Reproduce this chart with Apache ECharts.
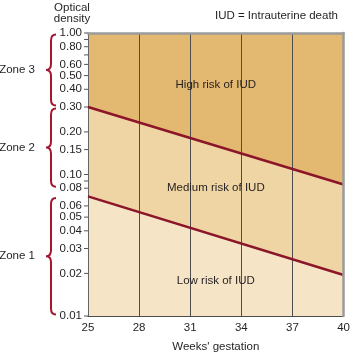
<!DOCTYPE html>
<html>
<head>
<meta charset="utf-8">
<script src="https://cdn.jsdelivr.net/npm/echarts@6/dist/echarts.min.js"></script>
<style>
html, body { margin: 0; padding: 0; background: #fff; }
#main { width: 353px; height: 358px; }
</style>
</head>
<body>
<div id="main"></div>
<script>
// values
var weeks = [25, 40];
var upperBound = [0.30, 0.085];   // high / medium risk boundary
var lowerBound = [0.070, 0.0195]; // medium / low risk boundary
var yTicks = [1.00, 0.80, 0.60, 0.50, 0.40, 0.30, 0.20, 0.15, 0.10, 0.08, 0.06, 0.05, 0.04, 0.03, 0.02, 0.01];
var yMinorTicks = [0.90, 0.70, 0.09];
var zoneNames = ['Zone 3', 'Zone 2', 'Zone 1'];
var zoneTop = [1.00, 0.30, 0.07];
var zoneBottom = [0.30, 0.08, 0.01];
var regionNames = ['High risk of IUD', 'Medium risk of IUD', 'Low risk of IUD'];
var regionY = [0.43, 0.081, 0.0177];
var regionX = 32.5;

var FONT = '11.5px "Liberation Sans", Arial, sans-serif';
var TEXT = '#231f20';
var RED = '#8b1529';
var BRACE = '#a5172e';

function pairs(xs, ys) {
    return xs.map(function (x, i) { return [x, ys[i]]; });
}

var chart = echarts.init(document.getElementById('main'));

var option = {
    animation: false,
    grid: {
        left: 88, right: 7, top: 33, bottom: 34,
        show: true,
        backgroundColor: '#efd5a4',
        borderWidth: 0
    },
    graphic: [
        {
            type: 'text', x: 72, y: 13,
            style: { text: 'Optical\ndensity', font: FONT, fill: TEXT, align: 'center', verticalAlign: 'middle', lineHeight: 11 }
        },
        {
            type: 'text', x: 338, y: 16,
            style: { text: 'IUD = Intrauterine death', font: FONT, fill: TEXT, align: 'right', verticalAlign: 'middle' }
        }
    ],
    xAxis: [
        {
            type: 'value', min: 25, max: 40, interval: 3, z: 2,
            axisLine: { lineStyle: { color: '#4d4d4d', width: 1 } },
            axisTick: { show: false },
            axisLabel: { margin: 6, fontSize: 11.5, color: TEXT, fontFamily: 'Liberation Sans' },
            splitLine: { show: true, lineStyle: { color: '#4d4d4d', width: 1 } },
            name: "Weeks' gestation",
            nameLocation: 'middle',
            nameGap: 25,
            nameTextStyle: { fontSize: 11.5, color: TEXT, fontFamily: 'Liberation Sans' }
        },
        {
            type: 'value', min: 25, max: 40, position: 'top', z: 4,
            axisLine: { show: true, lineStyle: { color: '#9b9b9b', width: 2.5 } },
            axisTick: { show: false }, axisLabel: { show: false }, splitLine: { show: false }
        }
    ],
    yAxis: [
        {
            type: 'log', logBase: 10, min: 0.01, max: 1, z: 2,
            axisLine: { show: true, lineStyle: { color: '#666', width: 1 } },
            axisTick: { show: false }, axisLabel: { show: false }, splitLine: { show: false }
        },
        {
            type: 'value', min: 0, max: 1, position: 'right', z: 4,
            axisLine: { show: true, lineStyle: { color: '#9b9b9b', width: 2.5 } },
            axisTick: { show: false }, axisLabel: { show: false }, splitLine: { show: false }
        }
    ],
    series: [
        {
            type: 'line', z: 1, symbol: 'none', silent: true,
            data: pairs(weeks, upperBound),
            lineStyle: { width: 0 },
            areaStyle: { color: '#e3b972', opacity: 1, origin: 'end' }
        },
        {
            type: 'line', z: 1, symbol: 'none', silent: true,
            data: pairs(weeks, lowerBound),
            lineStyle: { width: 0 },
            areaStyle: { color: '#f6e4c6', opacity: 1, origin: 'start' }
        },
        {
            type: 'line', z: 3, symbol: 'none',
            data: pairs(weeks, upperBound),
            lineStyle: { color: RED, width: 2.5 }
        },
        {
            type: 'line', z: 3, symbol: 'none',
            data: pairs(weeks, lowerBound),
            lineStyle: { color: RED, width: 2.5 }
        },
        // y ticks and labels at the figure's own positions
        {
            type: 'custom', z: 3, clip: false,
            data: yTicks.map(function (v) { return [25, v, 1]; })
                .concat(yMinorTicks.map(function (v) { return [25, v, 0]; })),
            renderItem: function (params, api) {
                var p = api.coord([25, api.value(1)]);
                var children = [{
                    type: 'line',
                    shape: { x1: p[0] - 4, y1: p[1], x2: p[0], y2: p[1] },
                    style: { stroke: '#555', lineWidth: 1 }
                }];
                if (api.value(2)) {
                    children.push({
                        type: 'text',
                        style: { text: api.value(1).toFixed(2), x: p[0] - 6, y: p[1], align: 'right', verticalAlign: 'middle', font: FONT, fill: TEXT }
                    });
                }
                return { type: 'group', children: children };
            }
        },
        // zone braces
        {
            type: 'custom', z: 3, clip: false,
            data: zoneNames.map(function (n, i) { return [25, zoneTop[i], zoneBottom[i]]; }),
            renderItem: function (params, api) {
                var a = api.coord([25, api.value(1)]);
                var b = api.coord([25, api.value(2)]);
                var y1 = a[1] + 1.5, y2 = b[1] - 1.5, mid = (y1 + y2) / 2;
                var end = a[0] - 32, stem = a[0] - 37, tip = a[0] - 42, r = 6;
                var d = 'M' + end + ' ' + y1 +
                    ' Q' + stem + ' ' + y1 + ' ' + stem + ' ' + (y1 + r) +
                    ' L' + stem + ' ' + (mid - r) +
                    ' Q' + stem + ' ' + mid + ' ' + tip + ' ' + mid +
                    ' Q' + stem + ' ' + mid + ' ' + stem + ' ' + (mid + r) +
                    ' L' + stem + ' ' + (y2 - r) +
                    ' Q' + stem + ' ' + y2 + ' ' + end + ' ' + y2;
                return {
                    type: 'group',
                    children: [
                        {
                            type: 'path',
                            shape: { pathData: d, x: tip, y: y1, width: end - tip, height: y2 - y1, layout: 'cover' },
                            style: { stroke: BRACE, fill: null, lineWidth: 2 }
                        },
                        {
                            type: 'text',
                            style: { text: zoneNames[params.dataIndex], x: tip - 11, y: mid, align: 'right', verticalAlign: 'middle', font: FONT, fill: TEXT }
                        }
                    ]
                };
            }
        },
        // risk region labels
        {
            type: 'custom', z: 5, clip: false,
            data: regionY.map(function (v) { return [regionX, v]; }),
            renderItem: function (params, api) {
                var p = api.coord([api.value(0), api.value(1)]);
                return {
                    type: 'text',
                    style: { text: regionNames[params.dataIndex], x: p[0], y: p[1], align: 'center', verticalAlign: 'middle', font: FONT, fill: TEXT }
                };
            }
        }
    ]
};
option && chart.setOption(option);
</script>
</body>
</html>
